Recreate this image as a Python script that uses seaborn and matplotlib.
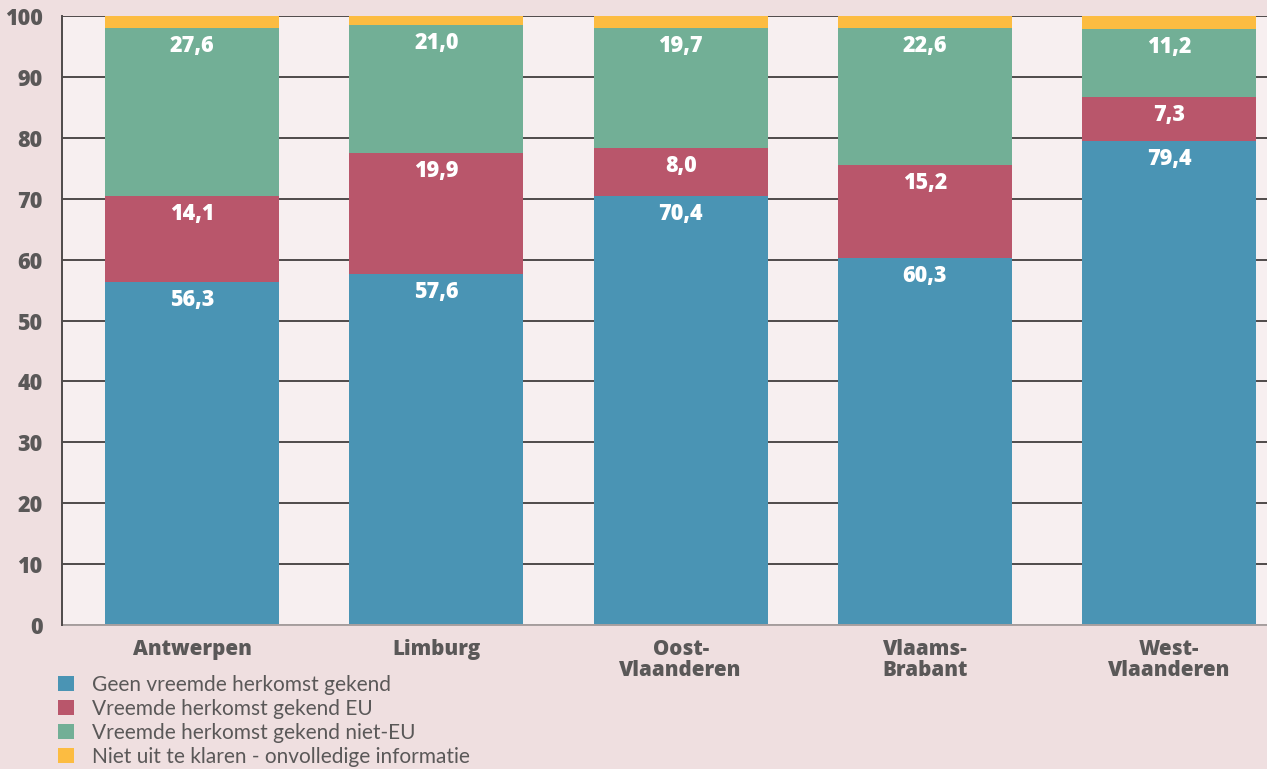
import matplotlib
matplotlib.use("Agg")
import matplotlib.pyplot as plt
from matplotlib.patches import Patch
import seaborn as sns
import numpy as np
import pandas as pd

provinces = ["Antwerpen", "Limburg", "Oost-\nVlaanderen", "Vlaams-\nBrabant", "West-\nVlaanderen"]
geen = [56.3, 57.6, 70.4, 60.3, 79.4]
eu = [14.1, 19.9, 8.0, 15.2, 7.3]
niet_eu = [27.6, 21.0, 19.7, 22.6, 11.2]
onbekend = [2.0, 1.5, 1.9, 1.9, 2.1]
series_names = ["Geen vreemde herkomst gekend", "Vreemde herkomst gekend EU",
                "Vreemde herkomst gekend niet-EU", "Niet uit te klaren - onvolledige informatie"]
colors = ["#4a94b4", "#b9566b", "#72af96", "#fcbc41"]
yticks = list(range(0, 101, 10))

sns.set_theme(style="white")
plt.rcParams["font.family"] = ["Lato", "DejaVu Sans"]
BOLD = ["Open Sans", "DejaVu Sans"]
GREY = "#5a5858"

fig = plt.figure(figsize=(12.67, 7.69), dpi=100, facecolor="#efdfe0")
ax = fig.add_axes([62/1267, 1-625/769, 1-62/1267, (625-16)/769])
ax.set_facecolor("#f7eff0")

df = pd.DataFrame({"prov": provinces, "geen": geen, "eu": eu, "niet_eu": niet_eu, "onb": onbekend})
cols = ["geen", "eu", "niet_eu", "onb"]
cum = df[cols].cumsum(axis=1)

for ycol in yticks:
    ax.axhline(ycol, color="#4f4a4a", lw=1.4, zorder=0.5)

for i in range(3, -1, -1):
    sns.barplot(x=df["prov"], y=cum[cols[i]], color=colors[i], width=0.712,
                saturation=1, ax=ax, zorder=2, linewidth=0)

for i in range(3):
    for j in range(len(provinces)):
        top = cum[cols[i]].iloc[j]
        ax.annotate(f"{df[cols[i]].iloc[j]:.1f}".replace(".", ","), xy=(j, top),
                    xytext=(0, -18), textcoords="offset pixels", ha="center", va="center",
                    color="white", fontsize=15.5, fontweight=800, family=BOLD, zorder=5)

ax.set_ylim(0, 100)
ax.set_xlim(-0.532, 4.40)
ax.set_yticks(yticks)
ax.set_yticklabels([str(t) for t in yticks], fontsize=15.5, fontweight=800, color=GREY, family=BOLD)
ax.set_xticks(range(len(provinces)))
ax.set_xticklabels(provinces, fontsize=14.8, fontweight=800, color=GREY, family=BOLD,
                   linespacing=1.0)
ax.tick_params(axis="y", length=0, pad=14)
ax.tick_params(axis="x", length=0, pad=10)
ax.set_xlabel("")
ax.set_ylabel("")
for s in ["top", "right"]:
    ax.spines[s].set_visible(False)
ax.spines["left"].set_color("#4f4a4a")
ax.spines["left"].set_linewidth(1.4)
ax.spines["bottom"].set_color("#a8a0a0")
ax.spines["bottom"].set_linewidth(1.4)
ax.spines["left"].set_zorder(3)

handles = [Patch(facecolor=c, edgecolor="none") for c in colors]
leg = fig.legend(handles, series_names, loc="upper left", bbox_to_anchor=(58/1267, 1-675/769),
                 frameon=False, fontsize=15, handlelength=0.75, handleheight=0.75,
                 handletextpad=0.9, labelspacing=0.19, borderaxespad=0, borderpad=0)
for t in leg.get_texts():
    t.set_color(GREY)

fig.savefig("out.png", dpi=100, facecolor=fig.get_facecolor())
